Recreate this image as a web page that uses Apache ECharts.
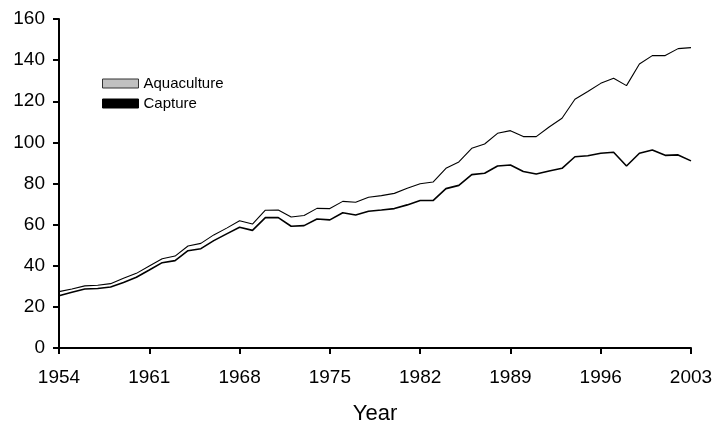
<!DOCTYPE html>
<html>
<head>
<meta charset="utf-8">
<script src="https://cdn.jsdelivr.net/npm/echarts@6/dist/echarts.min.js"></script>
<style>
	html, body { margin: 0; padding: 0; background: #fff; }
	#main { width: 716px; height: 424px; }
</style>
</head>
<body>
<div id="main"></div>
<script>
	// years on the x axis
	var years = [];
	for (var y = 1954; y <= 2003; y++) years.push(String(y));

	// capture (lower line)
	var capture = [
		25.4, 27.1, 28.7, 28.9, 29.7, 31.9, 34.4, 37.9, 41.5, 42.5,
		47.3, 48.3, 52.2, 55.5, 58.7, 57.2, 63.4, 63.4, 59.2, 59.5,
		62.7, 62.3, 65.8, 64.7, 66.5, 67.1, 67.8, 69.6, 71.7, 71.7,
		77.5, 79.1, 84.3, 85.0, 88.5, 89.0, 85.8, 84.6, 86.1, 87.4,
		93.0, 93.5, 94.7, 95.2, 88.5, 94.7, 96.3, 93.7, 93.9, 91.0
	];

	// aquaculture, stacked on top of capture
	var aquaculture = [
		2.0, 1.6, 1.5, 1.6, 1.6, 2.0, 1.9, 2.0, 1.9, 2.2,
		2.3, 2.6, 2.8, 2.8, 3.2, 3.1, 3.6, 3.7, 4.5, 4.9,
		5.2, 5.5, 5.5, 6.2, 6.8, 7.0, 7.4, 8.1, 8.2, 9.0,
		9.9, 11.4, 12.8, 14.2, 15.9, 16.7, 17.0, 18.2, 21.4, 24.3,
		28.0, 31.2, 34.0, 36.0, 39.1, 43.4, 45.9, 48.5, 51.7, 55.1
	];

	var fontFamily = '"Liberation Sans", Arial, sans-serif';
	var chart = echarts.init(document.getElementById('main'), null, {renderer: 'canvas'});

	chart.setOption({
		animation: false,
		backgroundColor: '#fff',
		textStyle: { fontFamily: fontFamily },
		grid: { left: 59, right: 25, top: 19, bottom: 76, outerBoundsMode: 'none', containLabel: false },
		legend: {
			orient: 'vertical',
			left: 97,
			top: 71,
			icon: 'rect',
			itemWidth: 36,
			itemHeight: 9,
			itemGap: 5,
			textStyle: { fontSize: 15, color: '#000', fontFamily: fontFamily },
			data: [
				{ name: 'Aquaculture', itemStyle: { color: '#c0c0c0', borderColor: '#333', borderWidth: 1 } },
				{ name: 'Capture', itemStyle: { color: '#000', borderColor: '#000', borderWidth: 1 } }
			]
		},
		xAxis: {
			type: 'category',
			data: years,
			boundaryGap: false,
			name: 'Year',
			nameLocation: 'middle',
			nameGap: 55,
			nameTextStyle: { fontSize: 22, color: '#000' },
			axisLine: { lineStyle: { color: '#000', width: 2 } },
			axisTick: { interval: 6, length: 6, lineStyle: { color: '#000', width: 2 } },
			axisLabel: { interval: 6, fontSize: 19, color: '#000', margin: 20 },
			splitLine: { show: false }
		},
		yAxis: {
			type: 'value',
			min: 0,
			max: 160,
			interval: 20,
			axisLine: { show: true, lineStyle: { color: '#000', width: 2 } },
			axisTick: { show: true, length: 6, lineStyle: { color: '#000', width: 2 } },
			axisLabel: { fontSize: 19, color: '#000', margin: 14 },
			splitLine: { show: false }
		},
		series: [
			{
				name: 'Capture',
				type: 'line',
				stack: 'total',
				data: capture,
				symbol: 'none',
				itemStyle: { color: '#000' },
				lineStyle: { color: '#000', width: 1.6 }
			},
			{
				name: 'Aquaculture',
				type: 'line',
				stack: 'total',
				data: aquaculture,
				symbol: 'none',
				itemStyle: { color: '#c0c0c0' },
				lineStyle: { color: '#000', width: 1.1 }
			}
		]
	});
</script>
</body>
</html>
